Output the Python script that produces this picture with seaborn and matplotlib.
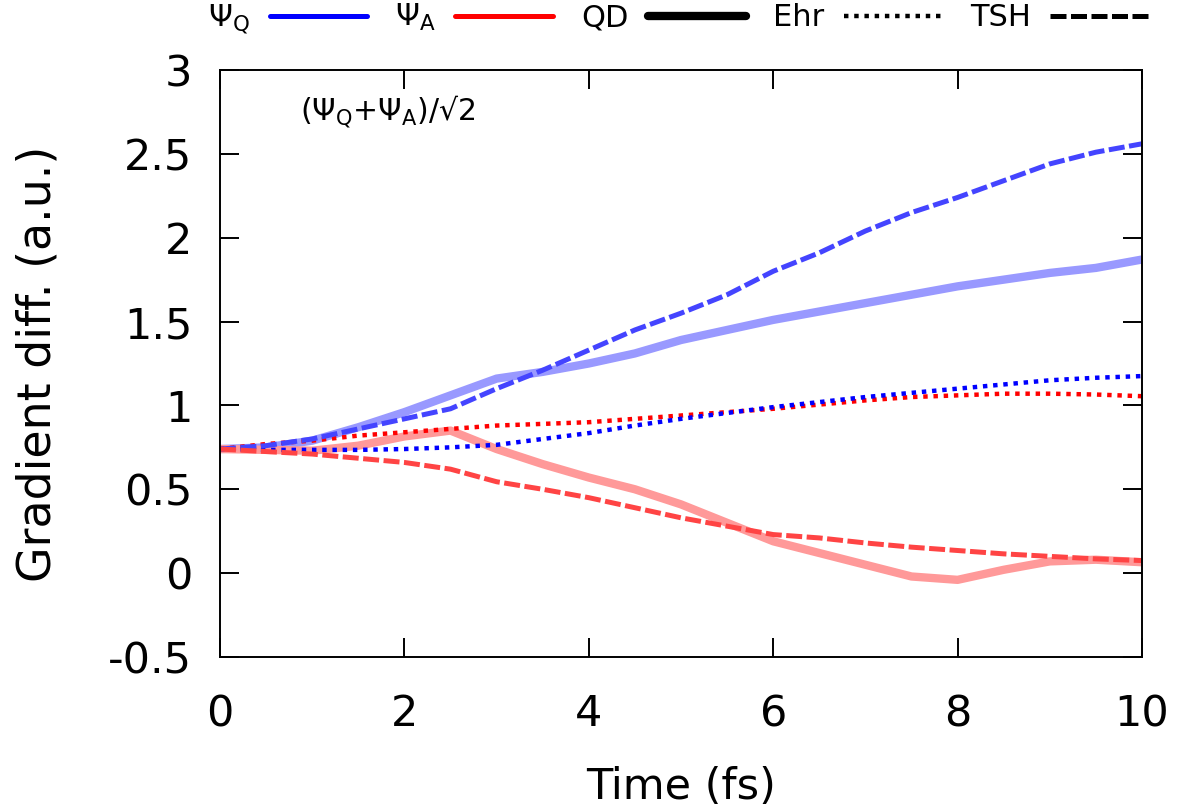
import numpy as np
import pandas as pd
import matplotlib
matplotlib.use('Agg')
import matplotlib.pyplot as plt
from matplotlib.lines import Line2D
import seaborn as sns

# time grid (fs)
time = [0, 0.5, 1, 1.5, 2, 2.5, 3, 3.5, 4, 4.5, 5, 5.5, 6, 6.5, 7, 7.5, 8, 8.5, 9, 9.5, 10]

qd_q = [0.74, 0.75, 0.79, 0.87, 0.96, 1.06, 1.16, 1.20, 1.25, 1.31, 1.39, 1.45, 1.51, 1.56,
        1.61, 1.66, 1.71, 1.75, 1.79, 1.82, 1.87]
qd_a = [0.74, 0.735, 0.73, 0.76, 0.815, 0.85, 0.74, 0.65, 0.57, 0.50, 0.41, 0.30, 0.19, 0.12,
        0.05, -0.02, -0.04, 0.02, 0.07, 0.08, 0.065]
ehr_q = [0.74, 0.735, 0.735, 0.735, 0.74, 0.75, 0.765, 0.80, 0.835, 0.88, 0.92, 0.955, 0.99,
         1.02, 1.05, 1.075, 1.10, 1.125, 1.15, 1.165, 1.175]
ehr_a = [0.74, 0.77, 0.79, 0.82, 0.84, 0.86, 0.88, 0.89, 0.90, 0.92, 0.94, 0.96, 0.98, 1.005,
         1.03, 1.05, 1.06, 1.07, 1.07, 1.065, 1.055]
tsh_q = [0.74, 0.76, 0.80, 0.86, 0.92, 0.98, 1.10, 1.21, 1.33, 1.45, 1.55, 1.66, 1.80, 1.91,
         2.04, 2.15, 2.24, 2.34, 2.44, 2.51, 2.56]
tsh_a = [0.74, 0.725, 0.71, 0.685, 0.66, 0.62, 0.545, 0.50, 0.45, 0.39, 0.33, 0.28, 0.23, 0.21,
         0.18, 0.155, 0.135, 0.115, 0.10, 0.085, 0.075]

yticks = [-0.5, 0, 0.5, 1, 1.5, 2, 2.5, 3]
ytick_labels = ['-0.5', '0', '0.5', '1', '1.5', '2', '2.5', '3']
xticks = [0, 2, 4, 6, 8, 10]

sns.set_theme(style='white')
plt.rcParams['font.family'] = ['DejaVu Sans']
plt.rcParams['mathtext.fontset'] = 'dejavusans'
plt.rcParams['mathtext.default'] = 'regular'
plt.rcParams['text.color'] = 'black'
plt.rcParams['axes.labelcolor'] = 'black'
plt.rcParams['xtick.color'] = 'black'
plt.rcParams['ytick.color'] = 'black'

fig = plt.figure(figsize=(11.8, 8.11), dpi=100)
ax = fig.add_axes([220 / 1180, 154 / 811, 922 / 1180, 587 / 811])

dash = (0, (3.2, 0.9))
dot = (0, (1.0, 1.3))

sns.lineplot(x=time, y=qd_q, ax=ax, color='#9999ff', lw=6.0, solid_capstyle='butt')
sns.lineplot(x=time, y=qd_a, ax=ax, color='#ff9999', lw=6.0, solid_capstyle='butt')
sns.lineplot(x=time, y=ehr_a, ax=ax, color='#ff0000', lw=3.2, linestyle=dot)
sns.lineplot(x=time, y=ehr_q, ax=ax, color='#0000ff', lw=3.2, linestyle=dot)
sns.lineplot(x=time, y=tsh_q, ax=ax, color='#4444ff', lw=3.6, linestyle=dash)
sns.lineplot(x=time, y=tsh_a, ax=ax, color='#ff4444', lw=3.6, linestyle=dash)

ax.set_xlim(0, 10)
ax.set_ylim(-0.5, 3)
ax.set_xticks(xticks)
ax.set_xticklabels([str(t) for t in xticks])
ax.set_yticks(yticks)
ax.set_yticklabels(ytick_labels)
ax.tick_params(axis='both', which='major', direction='in', length=14, width=1.4,
               labelsize=31, top=True, right=True, bottom=True, left=True, color='black')
ax.tick_params(axis='x', pad=26)
ax.tick_params(axis='y', pad=20)
for s in ax.spines.values():
    s.set_color('black')
    s.set_linewidth(1.4)

ax.set_xlabel('Time (fs)', fontsize=31, labelpad=22)
ax.set_ylabel('Gradient diff. (a.u.)', fontsize=33, labelpad=34)

ax.text(0.087, 0.928, r'($\Psi_Q$+$\Psi_A$)/√2', transform=ax.transAxes, fontsize=21.5,
        ha='left', va='center')

handles = [
    Line2D([], [], color='#0000ff', lw=3.6),
    Line2D([], [], color='#ff0000', lw=3.6),
    Line2D([], [], color='black', lw=6.0),
    Line2D([], [], color='black', lw=3.2, linestyle=dot),
    Line2D([], [], color='black', lw=3.6, linestyle=dash),
]
labels = [r'$\Psi_Q$', r'$\Psi_A$', 'QD', 'Ehr', 'TSH']
fig.legend(handles, labels, loc='center', bbox_to_anchor=(678 / 1180, 1 - 19 / 811),
           ncol=5, frameon=False, markerfirst=False, fontsize=22, handlelength=3.2,
           handletextpad=0.65, columnspacing=0.9, borderpad=0, borderaxespad=0)

fig.savefig('out.png', dpi=100)
